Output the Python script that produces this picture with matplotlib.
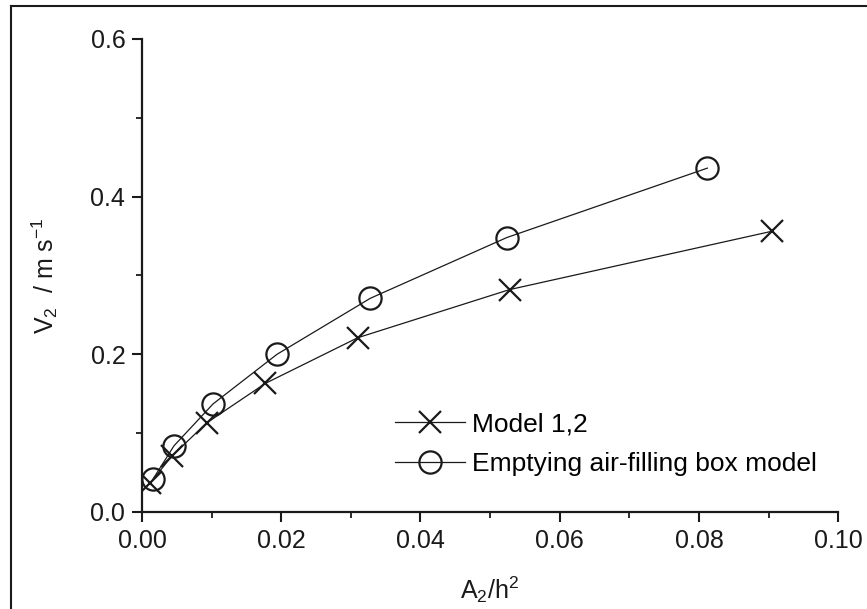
import matplotlib.pyplot as plt
from matplotlib.lines import Line2D
from matplotlib.ticker import MultipleLocator

plt.rcParams["font.family"] = ["Liberation Sans", "DejaVu Sans"]
plt.rcParams["mathtext.fontset"] = "custom"
plt.rcParams["mathtext.rm"] = "Liberation Sans"
plt.rcParams["mathtext.it"] = "Liberation Sans"

# Model 1,2
model_x = [0.0012, 0.0043, 0.0093, 0.0177, 0.0310, 0.0528, 0.0905]
model_v = [0.037, 0.071, 0.113, 0.163, 0.221, 0.282, 0.356]

# Emptying air-filling box model
box_x = [0.0016, 0.0046, 0.0102, 0.0194, 0.0328, 0.0524, 0.0812]
box_v = [0.042, 0.084, 0.137, 0.200, 0.271, 0.348, 0.436]

fig = plt.figure(figsize=(8.67, 6.09), dpi=100)
ax = fig.add_axes([0.1638, 0.1593, 0.803, 0.777])

ink = "#1a1a1a"
ax.plot(model_x, model_v, color=ink, lw=0.9, marker="x", ms=16, mew=1.6,
        label="Model 1,2")
ax.plot(box_x, box_v, color=ink, lw=0.9, marker="o", ms=16, mew=1.6,
        mfc="none", label="Emptying air-filling box model")

ax.set_xlim(0, 0.10)
ax.set_ylim(0, 0.6)
ax.xaxis.set_major_locator(MultipleLocator(0.02))
ax.xaxis.set_minor_locator(MultipleLocator(0.01))
ax.yaxis.set_major_locator(MultipleLocator(0.2))
ax.yaxis.set_minor_locator(MultipleLocator(0.1))
ax.xaxis.set_major_formatter(lambda v, p: f"{v:.2f}")
ax.yaxis.set_major_formatter(lambda v, p: f"{v:.1f}")

for side in ("top", "right"):
    ax.spines[side].set_visible(False)
for side in ("left", "bottom"):
    ax.spines[side].set_linewidth(1.6)
    ax.spines[side].set_color(ink)
ax.tick_params(which="major", direction="out", length=7, width=1.5,
               labelsize=18, colors=ink, pad=5)
ax.tick_params(which="minor", direction="out", length=4, width=1.3, colors=ink)

ax.set_xlabel("A$_2$/h$^2$", fontsize=18, labelpad=16, color=ink)
ax.set_ylabel("V$_2$  / m s$^{-1}$", fontsize=18, labelpad=22, color=ink)

ax.legend(loc="center left", bbox_to_anchor=(0.329, 0.143), frameon=False,
          fontsize=19, handlelength=2.65, handletextpad=0.27,
          labelspacing=0.6)

# page frame (top and left edge only)
fig.add_artist(Line2D([11 / 867, 1.0], [1 - 6 / 609, 1 - 6 / 609],
                      transform=fig.transFigure, color=ink, lw=1.5))
fig.add_artist(Line2D([11 / 867, 11 / 867], [0.0, 1 - 6 / 609],
                      transform=fig.transFigure, color=ink, lw=1.5))

fig.savefig("out.png", dpi=100)
